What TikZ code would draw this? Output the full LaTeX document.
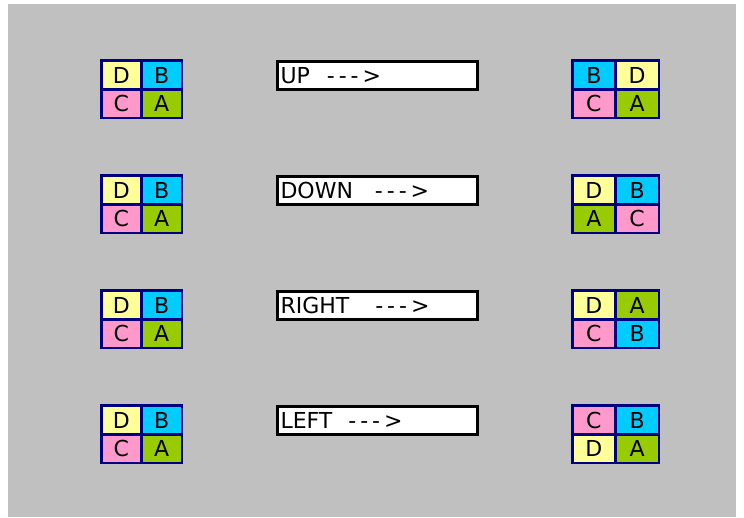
\documentclass[tikz,border=0pt]{standalone}
\usepackage{fontspec}
\newfontfamily\tilefont{DejaVu Sans}
\usepackage{tikz}
\usetikzlibrary{positioning}
\definecolor{bggray}{HTML}{C0C0C0}
\definecolor{navy}{HTML}{000080}
\definecolor{tyellow}{HTML}{FFFF99}
\definecolor{tcyan}{HTML}{00CCFF}
\definecolor{tpink}{HTML}{FF99CC}
\definecolor{tgreen}{HTML}{99CC00}

\begin{document}
\begin{tikzpicture}[x=1pt,y=-1pt,
  cell/.style={draw=navy,line width=2.5pt,minimum height=28.75pt,inner sep=0pt,outer sep=0pt,
    font=\tilefont\fontsize{22}{22}\selectfont},
  lcell/.style={cell,minimum width=40.25pt},
  rcell/.style={cell,minimum width=43.25pt},
  tileA/.style={fill=tgreen},
  tileB/.style={fill=tcyan},
  tileC/.style={fill=tpink},
  tileD/.style={fill=tyellow},
  movebox/.style={draw=black,line width=3pt,fill=white,minimum width=200pt,minimum height=28pt,
    text width=194pt,align=left,inner xsep=3pt,inner ysep=0pt,
    font=\tilefont\fontsize{22}{22}\selectfont}]
\fill[white] (0,0) rectangle (744,517);
\fill[bggray] (8,4) rectangle (736,517);
\useasboundingbox (0,0) rectangle (744,517);
% one row per move: start tiles, move name, resulting tiles
\foreach \n/\ty/\move/\gap/\ra/\rb/\rc/\rd in {
    1/75/UP/17pt/B/D/C/A,
    2/190/DOWN/22pt/D/B/A/C,
    3/305/RIGHT/26pt/D/A/C/B,
    4/420/LEFT/16pt/C/B/D/A}{
  % start position
  \node[lcell,tileD] (l\n-a) at (121.4,\ty) {D};
  \node[lcell,tileB,right=0pt of l\n-a] (l\n-b) {B};
  \node[lcell,tileC,below=0pt of l\n-a] (l\n-c) {C};
  \node[lcell,tileA,right=0pt of l\n-c] (l\n-d) {A};
  % move
  \node[movebox] (m\n) at (377.5,\ty+0.5) {\move\hspace{\gap}{\addfontfeature{LetterSpace=18}--->}};
  % result
  \node[rcell,tile\ra] (r\n-a) at (593.9,\ty) {\ra};
  \node[rcell,tile\rb,right=0pt of r\n-a] (r\n-b) {\rb};
  \node[rcell,tile\rc,below=0pt of r\n-a] (r\n-c) {\rc};
  \node[rcell,tile\rd,right=0pt of r\n-c] (r\n-d) {\rd};
}
\end{tikzpicture}
\end{document}
